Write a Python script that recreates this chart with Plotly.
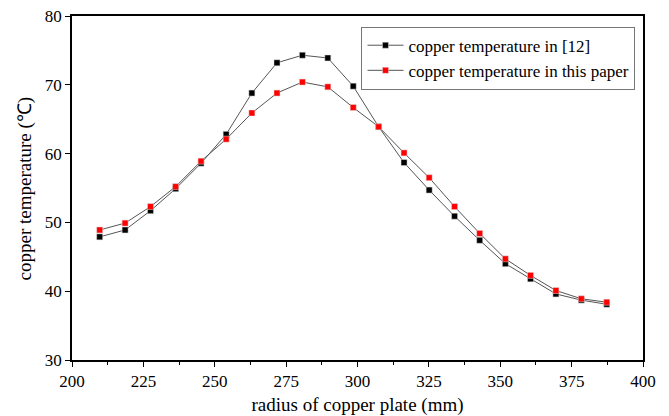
import plotly.graph_objects as go

radius = [209.7, 218.6, 227.5, 236.3, 245.2, 254.0, 263.0, 271.8, 280.7, 289.6,
          298.5, 307.4, 316.3, 325.1, 334.0, 342.8, 351.8, 360.6, 369.5, 378.4, 387.3]
temp_ref12 = [47.9, 48.9, 51.7, 54.9, 58.6, 62.8, 68.8, 73.2, 74.3, 73.9,
              69.8, 63.9, 58.7, 54.7, 50.9, 47.4, 44.0, 41.8, 39.6, 38.7, 38.1]
temp_paper = [48.9, 49.9, 52.3, 55.2, 58.9, 62.1, 65.9, 68.8, 70.4, 69.7,
              66.7, 63.9, 60.1, 56.5, 52.3, 48.4, 44.7, 42.3, 40.1, 38.9, 38.4]
series_names = ["copper temperature in [12]", "copper temperature in this paper"]
x_title = "radius of copper plate (mm)"
y_title = "copper temperature (℃)"

font = "Liberation Serif, Times New Roman, serif"

fig = go.Figure()
fig.add_trace(go.Scatter(x=radius, y=temp_ref12, mode="lines+markers", name=series_names[0],
                         line=dict(color="#555555", width=1),
                         marker=dict(symbol="square", size=6, color="black",
                                     line=dict(color="#dddddd", width=0.5))))
fig.add_trace(go.Scatter(x=radius, y=temp_paper, mode="lines+markers", name=series_names[1],
                         line=dict(color="#555555", width=1),
                         marker=dict(symbol="square", size=6, color="red",
                                     line=dict(color="#dddddd", width=0.5))))

fig.update_layout(
    width=669, height=416,
    margin=dict(l=72, r=26, t=16, b=56),
    plot_bgcolor="white", paper_bgcolor="white",
    font=dict(family=font, size=17, color="black"),
    showlegend=True,
    legend=dict(x=0.507, y=0.969, xanchor="left", yanchor="top",
                bordercolor="#777777", borderwidth=1, bgcolor="white",
                font=dict(family=font, size=17), tracegroupgap=0,
                itemwidth=36),
    xaxis=dict(range=[200, 400], tickvals=[200, 225, 250, 275, 300, 325, 350, 375, 400],
               automargin=False,
               showgrid=False, zeroline=False, showline=True, linecolor="black", linewidth=1.5,
               mirror=True, ticks="outside", ticklen=5, tickcolor="black",
               minor=dict(ticks="outside", ticklen=3, dtick=12.5, tickcolor="black"),
               title=dict(text=x_title, font=dict(size=19)),
               tickfont=dict(size=17)),
    yaxis=dict(range=[30, 80], dtick=10, automargin=False,
               showgrid=False, zeroline=False, showline=True, linecolor="black", linewidth=1.5,
               mirror=True, ticks="outside", ticklen=5, tickcolor="black",
               tickfont=dict(size=17)),
    annotations=[dict(text=y_title, textangle=-90, xref="paper", yref="paper",
                      x=-0.0815, y=0.5, xanchor="center", yanchor="middle",
                      showarrow=False, font=dict(family=font, size=19))],
)

fig.write_html("out.html")
